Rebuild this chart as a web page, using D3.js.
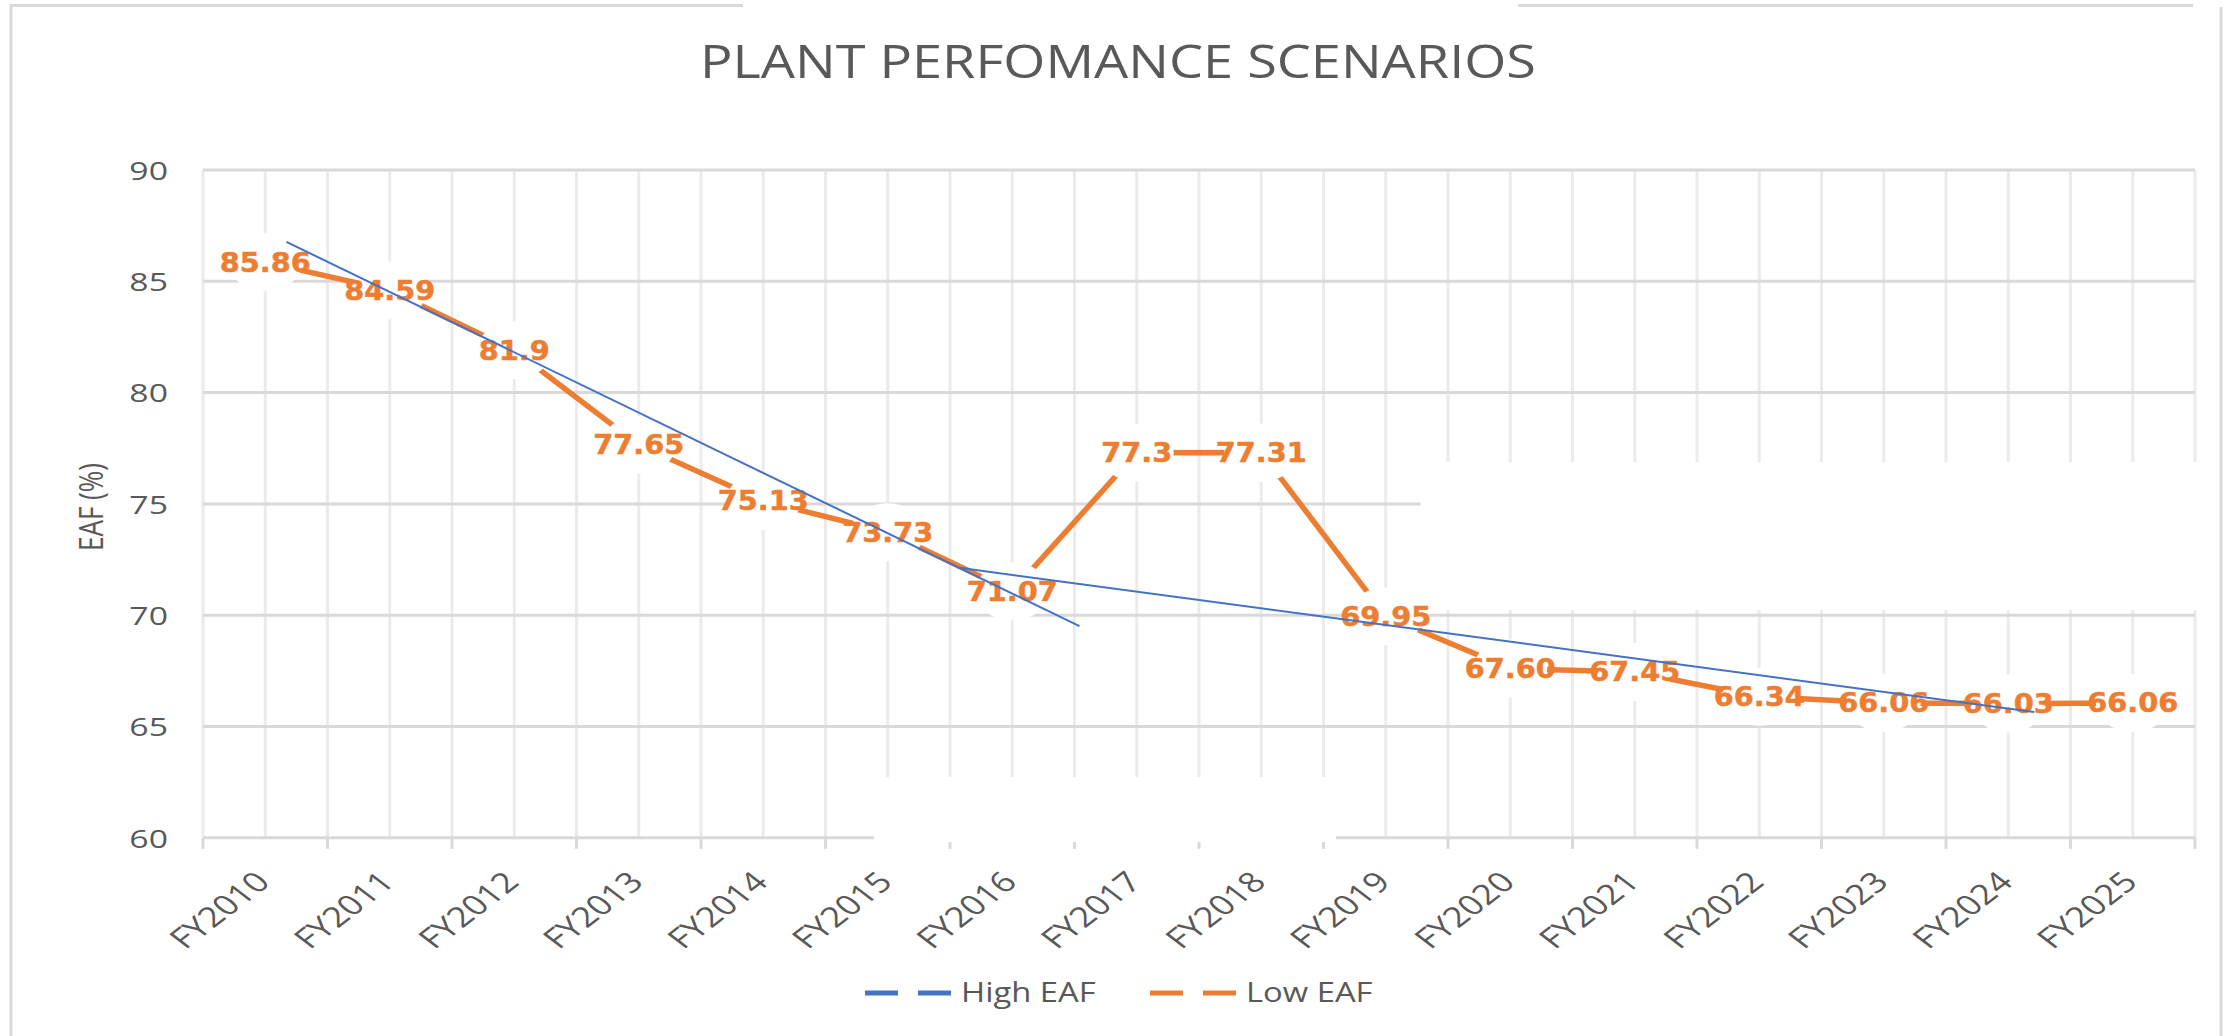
<!DOCTYPE html>
<html><head><meta charset="utf-8">
<script src="https://cdn.jsdelivr.net/npm/d3@7"></script>
<style>body{margin:0;background:#fff}</style>
</head><body>
<svg id="c" width="2239" height="1036"></svg>
<script>
// ---------- data ----------
const categories = ["FY2010","FY2011","FY2012","FY2013","FY2014","FY2015","FY2016","FY2017",
                    "FY2018","FY2019","FY2020","FY2021","FY2022","FY2023","FY2024","FY2025"];
const lowEAF = [85.86,84.59,81.9,77.65,75.13,73.73,71.07,77.3,77.31,69.95,67.60,67.45,66.34,66.06,66.03,66.06];
const lowLabels = ["85.86","84.59","81.9","77.65","75.13","73.73","71.07","77.3","77.31",
                   "69.95","67.60","67.45","66.34","66.06","66.03","66.06"];
// High EAF: drawn in the source as two straight trend segments (category index, value)
const highSeg1X = [0.17, 6.54];
const highSeg1Y = [86.77, 69.51];
const highSeg2X = [5.56, 14.21];
const highSeg2Y = [72.14, 65.65];
const yTicks = [60,65,70,75,80,85,90];
const legendLabels = ["High EAF","Low EAF"];
const chartTitle = "PLANT PERFOMANCE SCENARIOS";
const yTitle = "EAF (%)";

(function () {
// ---------- layout ----------
const W = 2239, H = 1036;
const pLeft = 203, pRight = 2195, pTop = 170, pBottom = 837.8;
const svg = d3.select("#c");
const n = categories.length;
const x = d3.scaleBand().domain(categories).range([pLeft, pRight]).padding(0);
const xi = d3.scaleLinear().domain([-0.5, n - 0.5]).range([pLeft, pRight]);
const y = d3.scaleLinear().domain([60, 90]).range([pBottom, pTop]);
const cx = c => x(c) + x.bandwidth() / 2;

const ORANGE = "#ed7d31", BLUE = "#4472c4", GRAY = "#595959", GRID = "#d9d9d9";

svg.append("rect").attr("width", W).attr("height", H).attr("fill", "#fff");

// outer frame (partially missing in source)
const frame = svg.append("g").attr("stroke", GRID).attr("stroke-width", 3);
frame.append("line").attr("x1", 11).attr("x2", 11).attr("y1", 4).attr("y2", H);
frame.append("line").attr("x1", 10).attr("x2", 743).attr("y1", 5.5).attr("y2", 5.5);
frame.append("line").attr("x1", 1518).attr("x2", 2193).attr("y1", 5.5).attr("y2", 5.5);
frame.append("line").attr("x1", 2221).attr("x2", 2221).attr("y1", 7).attr("y2", H);

// title
svg.append("text").attr("x", 1118).attr("y", 78).attr("text-anchor", "middle")
  .attr("font-family", "Open Sans").attr("font-weight", 400).attr("font-size", 46)
  .attr("fill", GRAY).attr("textLength", 836).attr("lengthAdjust", "spacingAndGlyphs")
  .text(chartTitle);

// vertical gridlines (every half category)
const halfSteps = d3.range(0, n * 2 + 1).map(k => xi(-0.5 + k / 2));
svg.append("g").selectAll("line").data(halfSteps).join("line")
  .attr("x1", d => d).attr("x2", d => d).attr("y1", pTop).attr("y2", pBottom)
  .attr("stroke", "#ebebeb").attr("stroke-width", 3);

// horizontal gridlines
svg.append("g").selectAll("line").data(yTicks).join("line")
  .attr("x1", pLeft).attr("x2", pRight).attr("y1", d => y(d)).attr("y2", d => y(d))
  .attr("stroke", GRID).attr("stroke-width", 3);

// tick marks at category boundaries
svg.append("g").selectAll("line").data(d3.range(0, n + 1)).join("line")
  .attr("x1", k => xi(k - 0.5)).attr("x2", k => xi(k - 0.5))
  .attr("y1", pBottom).attr("y2", pBottom + 11)
  .attr("stroke", GRID).attr("stroke-width", 3);

// white patches present in the source image (data space)
const patches = [
  {x0: 9.28, x1: 15.55, y0: 76.88, y1: 70.23},
  {x0: 4.89, x1: 8.6, y0: 62.73, y1: 59.81}
];
svg.append("g").selectAll("rect").data(patches).join("rect")
  .attr("x", d => xi(d.x0)).attr("width", d => xi(d.x1) - xi(d.x0))
  .attr("y", d => y(d.y0)).attr("height", d => y(d.y1) - y(d.y0))
  .attr("fill", "#fff");

// y axis
const yAxis = svg.append("g").attr("transform", "translate(168,0)")
  .call(d3.axisLeft(y).tickValues(yTicks).tickSize(0).tickPadding(0));
yAxis.select(".domain").remove();
yAxis.selectAll("text").attr("x", 0).attr("dy", "0.36em")
  .attr("font-family", "Open Sans").attr("font-size", 26).attr("fill", GRAY)
  .attr("text-anchor", "end").attr("transform", "scale(1.3,1)");

// x axis labels
const xAxis = svg.append("g").attr("transform", `translate(0,${pBottom})`)
  .call(d3.axisBottom(x).tickSize(0).tickPadding(0));
xAxis.select(".domain").remove();
xAxis.selectAll("text").attr("x", 0).attr("y", 0).attr("dy", 0)
  .attr("font-family", "Open Sans").attr("font-size", 28).attr("fill", GRAY)
  .attr("text-anchor", "end")
  .attr("transform", "translate(6.5,46) scale(1.3,1) rotate(-45)");

// y title
svg.append("text").attr("transform", "translate(103,507) scale(1.25,1) rotate(-90)")
  .attr("text-anchor", "middle").attr("font-family", "Open Sans").attr("font-size", 26)
  .attr("fill", GRAY).text(yTitle);

// Low EAF line
const lowPts = lowEAF.map((v, i) => ({cx: cx(categories[i]), cy: y(v), v, label: lowLabels[i]}));
svg.append("path").datum(lowPts)
  .attr("d", d3.line().x(d => d.cx).y(d => d.cy))
  .attr("fill", "none").attr("stroke", ORANGE).attr("stroke-width", 5.5);

// label backgrounds
svg.append("g").selectAll("ellipse").data(lowPts).join("ellipse")
  .attr("cx", d => d.cx).attr("cy", d => d.cy).attr("rx", 37).attr("ry", 29).attr("fill", "#fff");

// labels
const labels = svg.append("g").selectAll("text").data(lowPts).join("text")
  .attr("text-anchor", "middle").attr("dy", "0.36em")
  .attr("font-family", "DejaVu Sans, Verdana, sans-serif").attr("font-weight", "bold").attr("font-size", 26)
  .attr("fill", ORANGE).attr("stroke", ORANGE).attr("stroke-width", 0.5)
  .text(d => d.label);
// match the source's label width (about 91px for a 5-character value)
const refW = labels.nodes()[0].getComputedTextLength();
const kx = refW > 0 ? 91 / refW : 1;
labels.attr("transform", d => `translate(${d.cx},${d.cy}) scale(${kx},1)`);

// High EAF segments
const segLine = d3.line().x(d => xi(d[0])).y(d => y(d[1]));
[[highSeg1X, highSeg1Y], [highSeg2X, highSeg2Y]].forEach(([xs, ys]) => {
  svg.append("path").datum(xs.map((v, i) => [v, ys[i]]))
    .attr("d", segLine).attr("fill", "none").attr("stroke", BLUE).attr("stroke-width", 2);
});

// legend
const legend = svg.append("g");
const legendItems = [{label: legendLabels[0], color: BLUE, x: 865}, {label: legendLabels[1], color: ORANGE, x: 1150}];
legendItems.forEach(it => {
  legend.append("line").attr("x1", it.x).attr("x2", it.x + 88).attr("y1", 993).attr("y2", 993)
    .attr("stroke", it.color).attr("stroke-width", 5).attr("stroke-dasharray", "33,20");
  legend.append("text").attr("transform", `translate(${it.x + 96},1002) scale(1.17,1)`)
    .attr("font-family", "Open Sans").attr("font-size", 28).attr("fill", GRAY).text(it.label);
});
})();
</script>
</body></html>
